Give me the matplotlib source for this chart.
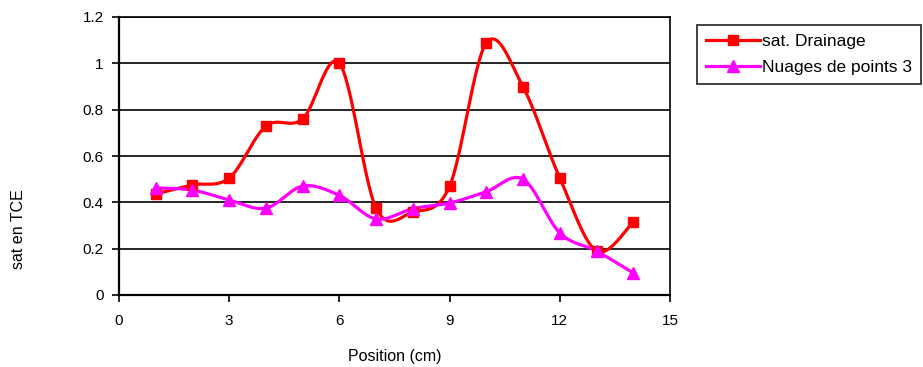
import numpy as np
import matplotlib
matplotlib.use("Agg")
import matplotlib.pyplot as plt

plt.rcParams['font.family'] = ['Liberation Sans', 'DejaVu Sans']

positions = [1, 2, 3, 4, 5, 6, 7, 8, 9, 10, 11, 12, 13, 14]
sat_drainage = [0.436, 0.475, 0.505, 0.729, 0.76, 1.0, 0.375, 0.358, 0.47, 1.088, 0.898, 0.505, 0.19, 0.315]
nuages_3 = [0.462, 0.453, 0.41, 0.375, 0.47, 0.43, 0.328, 0.373, 0.397, 0.446, 0.50, 0.268, 0.19, 0.095]

x_ticks = [0, 3, 6, 9, 12, 15]
y_ticks = [0, 0.2, 0.4, 0.6, 0.8, 1, 1.2]
y_tick_labels = ["0", "0.2", "0.4", "0.6", "0.8", "1", "1.2"]


def smooth(xs, ys, n=30):
    """Cubic Bezier smoothing through every point (Catmull-Rom style)."""
    p = np.column_stack([xs, ys]).astype(float)
    ext = np.vstack([p[0], p, p[-1]])
    out = []
    t = np.linspace(0, 1, n)[:, None]
    for i in range(len(p) - 1):
        p0, p1, p2, p3 = ext[i], ext[i + 1], ext[i + 2], ext[i + 3]
        c1 = p1 + (p2 - p0) / 6.0
        c2 = p2 - (p3 - p1) / 6.0
        seg = ((1 - t) ** 3) * p1 + 3 * ((1 - t) ** 2) * t * c1 + 3 * (1 - t) * t ** 2 * c2 + t ** 3 * p2
        out.append(seg if i == 0 else seg[1:])
    s = np.vstack(out)
    return s[:, 0], s[:, 1]


W, H = 923, 367
fig = plt.figure(figsize=(W / 100, H / 100), dpi=100)
ax = fig.add_axes([119 / W, 1 - 295 / H, (670 - 119) / W, (295 - 17) / H])

red = "#ff0000"
mag = "#ff00ff"

sx, sy = smooth(positions, sat_drainage)
ax.plot(sx, sy, color=red, lw=2.3, zorder=3)
ax.plot(positions, sat_drainage, ls="none", marker="s", ms=7, color=red, zorder=4)
mx, my = smooth(positions, nuages_3)
ax.plot(mx, my, color=mag, lw=2.3, zorder=3)
ax.plot(positions, nuages_3, ls="none", marker="^", ms=8, color=mag, zorder=4)

# legend proxies
h1, = ax.plot([], [], color=red, lw=2.3, marker="s", ms=7)
h2, = ax.plot([], [], color=mag, lw=2.3, marker="^", ms=8)

ax.set_xlim(0, 15)
ax.set_ylim(0, 1.2)
ax.set_xticks(x_ticks)
ax.set_yticks(y_ticks)
ax.set_yticklabels(y_tick_labels)
ax.tick_params(direction="out", length=5, width=1.2, labelsize=11, colors="black")
ax.tick_params(axis="x", pad=9)
ax.tick_params(axis="y", pad=6)
ax.grid(axis="y", color="black", lw=1.2)
ax.set_axisbelow(True)
for side in ["left", "bottom"]:
    ax.spines[side].set_linewidth(1.6)
for side in ["right", "top"]:
    ax.spines[side].set_linewidth(1.2)
    ax.spines[side].set_color("black")

fig.text(395 / W, 1 - 356 / H, "Position (cm)", fontsize=11.5, ha="center", va="center")
fig.text(19 / W, 1 - 229 / H, "sat en TCE", rotation=90, fontsize=11.5, ha="center", va="center")

leg = fig.legend([h1, h2], ["sat. Drainage", "Nuages de points 3"],
                 loc="upper left", bbox_to_anchor=(697 / W, 1 - 25 / H),
                 fontsize=12.5, frameon=True, fancybox=False, handlelength=3.1,
                 handletextpad=0.15, borderpad=0.5, labelspacing=0.65, borderaxespad=0)
leg.get_frame().set_edgecolor("black")
leg.get_frame().set_linewidth(1.3)

fig.savefig("out.png", dpi=100)
